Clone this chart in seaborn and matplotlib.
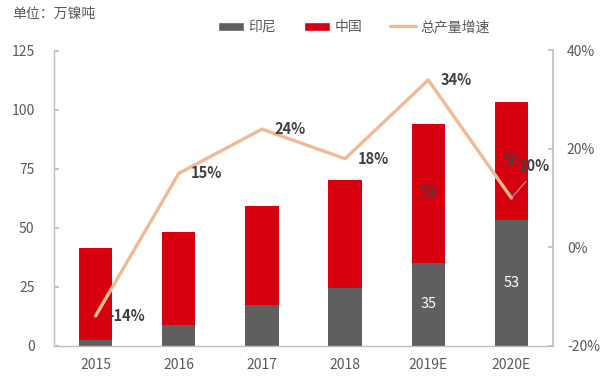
import numpy as np
import pandas as pd
import seaborn as sns
import matplotlib.pyplot as plt
from matplotlib.patches import Patch
from matplotlib.lines import Line2D
from matplotlib.ticker import FuncFormatter, FixedLocator

# data
years = ["2015", "2016", "2017", "2018", "2019E", "2020E"]
indonesia = [2.5, 8.5, 17, 24.5, 35, 53]
china = [39, 39.5, 42, 45.5, 59, 50]
growth = [-0.14, 0.15, 0.24, 0.18, 0.34, 0.10]
growth_labels = ["-14%", "15%", "24%", "18%", "34%", "10%"]

RED = "#D7000F"
GRAY = "#5F5F5F"
PEACH = "#F1B994"
TEXT = "#595959"
AXIS = "#BFBFBF"

sns.set_theme(style="white")
plt.rcParams["font.family"] = ["Noto Sans CJK SC", "DejaVu Sans"]

df = pd.DataFrame({"year": years, "indonesia": indonesia, "china": china})
df["total"] = df["indonesia"] + df["china"]

fig = plt.figure(figsize=(6.05, 3.82), dpi=100)
ax = fig.add_axes([54 / 605, 1 - 345.5 / 382, 499 / 605, 295 / 382])

# stacked bars: total in red, Indonesia in grey over it
sns.barplot(data=df, x="year", y="total", color=RED, width=0.4, saturation=1,
            linewidth=0, ax=ax)
sns.barplot(data=df, x="year", y="indonesia", color=GRAY, width=0.4, saturation=1,
            linewidth=0, ax=ax)

ax.set_xlim(-0.5, 5.5)
ax.set_ylim(0, 125)
ax.set_yticks([0, 25, 50, 75, 100, 125])
ax.set_xlabel("")
ax.set_ylabel("")

for s in ["top", "right"]:
    ax.spines[s].set_visible(False)
for s in ["left", "bottom"]:
    ax.spines[s].set_color(AXIS)
    ax.spines[s].set_linewidth(1)

ax.tick_params(axis="y", direction="in", length=3.5, color=AXIS, labelcolor=TEXT,
               labelsize=10, pad=14)
ax.tick_params(axis="x", which="major", length=0, labelcolor=TEXT, labelsize=10, pad=9)
ax.xaxis.set_minor_locator(FixedLocator([0.5, 1.5, 2.5, 3.5, 4.5]))
ax.tick_params(axis="x", which="minor", direction="in", length=3.5, color=AXIS)

# value labels only on the forecast years
for i in [4, 5]:
    ax.text(i, indonesia[i] / 2, f"{indonesia[i]:.0f}", ha="center", va="center",
            color="white", fontsize=10.5)
    ax.text(i, indonesia[i] + china[i] / 2, f"{china[i]:.0f}", ha="center", va="center",
            color="#404040", fontsize=10.5)

# growth line on the right axis
ax2 = ax.twinx()
sns.lineplot(x=np.arange(len(years)), y=growth, color=PEACH, linewidth=2.4, ax=ax2)
ax2.set_ylim(-0.2, 0.4)
ax2.set_yticks([-0.2, 0, 0.2, 0.4])
ax2.yaxis.set_major_formatter(FuncFormatter(lambda v, p: f"{v * 100:.0f}%"))
for s in ["top", "left", "bottom"]:
    ax2.spines[s].set_visible(False)
ax2.spines["right"].set_color(AXIS)
ax2.tick_params(axis="y", direction="in", length=3.5, color=AXIS, labelcolor=TEXT,
                labelsize=10, pad=10)

for i, (g, lab) in enumerate(zip(growth, growth_labels)):
    if i == 5:
        ax2.annotate(lab, (i, g), xytext=(5, 23), textcoords="offset points",
                     ha="left", va="center", fontsize=10.5, fontweight="bold",
                     color="#404040",
                     arrowprops=dict(arrowstyle="-", color="#A6A6A6", lw=0.8,
                                     relpos=(0.45, 0), shrinkA=4, shrinkB=0))
    else:
        ax2.annotate(lab, (i, g), xytext=(9, 0), textcoords="offset points",
                     ha="left", va="center", fontsize=10.5, fontweight="bold",
                     color="#404040")

fig.text(12 / 605, 1 - 14 / 382, "单位：万镍吨", ha="left", va="center",
         fontsize=10, color=TEXT)

handles = [Patch(facecolor=GRAY, label="印尼"),
           Patch(facecolor=RED, label="中国"),
           Line2D([0], [0], color=PEACH, lw=2.4, label="总产量增速")]
fig.legend(handles=handles, loc="center", bbox_to_anchor=(0.585, 1 - 27 / 382), ncol=3,
           frameon=False, fontsize=10, handlelength=1.9, handleheight=0.6,
           handletextpad=0.3, columnspacing=2.0, labelcolor=TEXT)

fig.savefig("out.png", dpi=100)
